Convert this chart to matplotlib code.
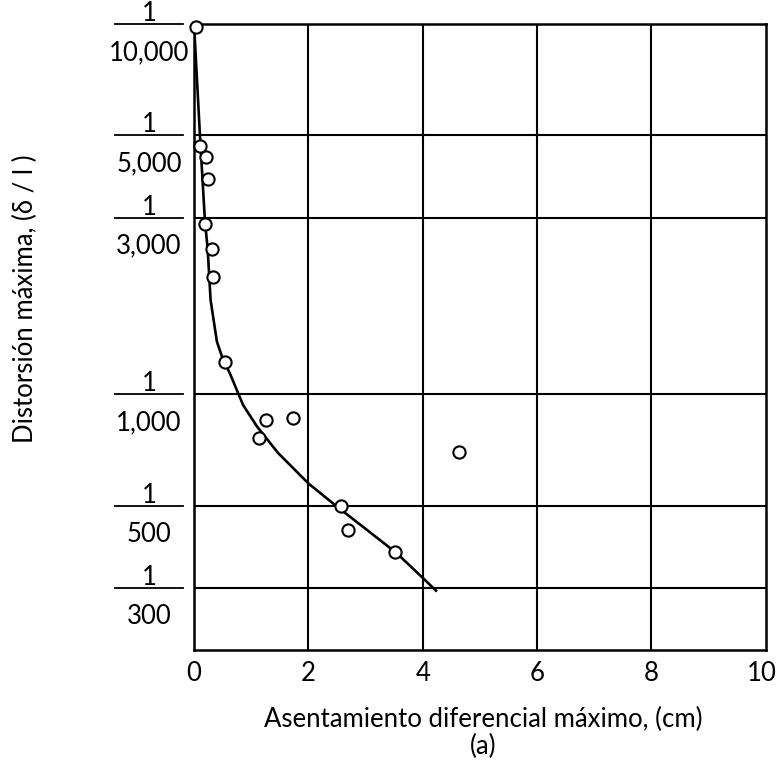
import matplotlib
matplotlib.use("Agg")
import matplotlib.pyplot as plt
from matplotlib.ticker import NullLocator
from matplotlib.transforms import blended_transform_factory

plt.rcParams['font.family'] = ['Lato', 'DejaVu Sans']

# Data
pts_x = [0.03, 0.11, 0.21, 0.24, 0.19, 0.31, 0.34, 0.55, 1.26, 1.73, 1.13, 4.64, 2.58, 2.69, 3.52]
pts_y = [1.02e-4, 2.14e-4, 2.28e-4, 2.62e-4, 3.47e-4, 4.06e-4, 4.82e-4, 8.18e-4,
         1.17e-3, 1.16e-3, 1.315e-3, 1.43e-3, 2.0e-3, 2.33e-3, 2.66e-3]

curve_x = [0.0, 0.105, 0.19, 0.24, 0.29, 0.40, 0.50, 0.63, 0.86, 1.10, 1.47, 2.0, 2.5, 3.02, 3.55, 4.01, 4.25]
curve_y = [1.0e-4, 2.01e-4, 3.38e-4, 4.07e-4, 5.56e-4, 7.2e-4, 8.0e-4, 8.8e-4, 1.07e-3, 1.22e-3,
           1.44e-3, 1.74e-3, 2.01e-3, 2.32e-3, 2.69e-3, 3.14e-3, 3.41e-3]

ytick_vals = [1/10000, 1/5000, 1/3000, 1/1000, 1/500, 1/300]
ytick_den = ["10,000", "5,000", "3,000", "1,000", "500", "300"]
xtick_vals = [0, 2, 4, 6, 8, 10]
xtick_labels = ["0", "2", "4", "6", "8", "10"]

FS = 18.5
W, H = 779, 774
fig = plt.figure(figsize=(W/100, H/100), dpi=100)
ax = fig.add_axes([194/W, 1 - 650/H, (765.7 - 194)/W, (650 - 24)/H])

ax.set_yscale('log')
ax.set_xlim(0, 10)
ax.set_ylim(10**-2.3095, 1e-4)

# grid
for xv in xtick_vals[1:-1]:
    ax.axvline(xv, color='black', lw=1.5, zorder=1)
for yv in ytick_vals[1:]:
    ax.axhline(yv, color='black', lw=1.5, zorder=1)

ax.plot(curve_x, curve_y, color='black', lw=1.9, zorder=2, solid_capstyle='butt')
ax.plot(pts_x, pts_y, linestyle='none', marker='o', markersize=8.8,
        markerfacecolor='white', markeredgecolor='black', markeredgewidth=1.5, zorder=3,
        clip_on=False)

for s in ax.spines.values():
    s.set_linewidth(1.8)
    s.set_color('black')

ax.xaxis.set_major_locator(NullLocator())
ax.yaxis.set_major_locator(NullLocator())
ax.yaxis.set_minor_locator(NullLocator())

# x tick labels (baseline at y=681 px)
xtrans = blended_transform_factory(ax.transData, fig.transFigure)
for xv, lab in zip(xtick_vals, xtick_labels):
    dx = -0.06 if lab == "10" else 0.0
    ax.text(xv + dx, 1 - 681/H, lab, transform=xtrans, ha='center', va='baseline',
            fontsize=FS, clip_on=False)

# fraction tick labels
trans = blended_transform_factory(fig.transFigure, ax.transData)
for yv, den in zip(ytick_vals, ytick_den):
    ax.plot([115/W, 183/W], [yv, yv], color='black', lw=1.3, transform=trans, clip_on=False)
    ax.annotate("1", xy=(149/W, yv), xycoords=trans, xytext=(0, 3), textcoords='offset pixels',
                ha='center', va='baseline', fontsize=FS)
    ax.annotate(den, xy=(149/W, yv), xycoords=trans, xytext=(0, -36), textcoords='offset pixels',
                ha='center', va='baseline', fontsize=FS)

fig.text(483/W, 1 - 727/H, "Asentamiento diferencial máximo, (cm)", ha='center', va='baseline', fontsize=FS)
fig.text(483/W, 1 - 754/H, "(a)", ha='center', va='baseline', fontsize=FS)
fig.text(25/W, 1 - 299/H, "Distorsión máxima, (δ / l )", ha='center', va='center', rotation=90, fontsize=FS)

fig.savefig("out.png", dpi=100)
